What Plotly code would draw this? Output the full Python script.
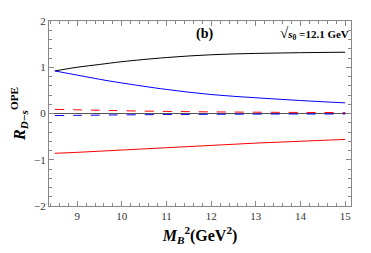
import plotly.graph_objects as go

x_vals = [8.5, 9, 9.5, 10, 11, 12, 13, 14, 15]
black_solid = [0.92, 1.00, 1.06, 1.12, 1.21, 1.27, 1.30, 1.315, 1.325]
blue_solid = [0.92, 0.83, 0.74, 0.66, 0.52, 0.41, 0.34, 0.28, 0.23]
red_solid = [-0.86, -0.84, -0.815, -0.79, -0.74, -0.69, -0.64, -0.60, -0.56]
red_dashed = [0.09, 0.08, 0.07, 0.06, 0.045, 0.035, 0.028, 0.023, 0.02]
blue_dashed = [-0.045, -0.04, -0.035, -0.03, -0.022, -0.017, -0.013, -0.011, -0.01]

font_fam = "Liberation Serif, Times New Roman, DejaVu Serif, serif"

fig = go.Figure()
fig.add_trace(go.Scatter(x=x_vals, y=black_solid, mode="lines", line=dict(color="black", width=1, shape="spline")))
fig.add_trace(go.Scatter(x=x_vals, y=blue_solid, mode="lines", line=dict(color="blue", width=1, shape="spline")))
fig.add_trace(go.Scatter(x=x_vals, y=red_solid, mode="lines", line=dict(color="red", width=1, shape="spline")))
fig.add_trace(go.Scatter(x=x_vals, y=red_dashed, mode="lines", line=dict(color="red", width=1, dash="dash", shape="spline")))
fig.add_trace(go.Scatter(x=x_vals, y=blue_dashed, mode="lines", line=dict(color="blue", width=1, dash="dash", shape="spline")))

axis_common = dict(
    showgrid=False, showline=True, linecolor="#888", linewidth=1, mirror="ticks",
    ticks="inside", ticklen=5, tickcolor="#888", tickwidth=1, automargin=False,
    tickfont=dict(family=font_fam, size=11, color="#333"),
)
fig.update_xaxes(range=[8.37, 15.13], tickvals=[9, 10, 11, 12, 13, 14, 15],
                 minor=dict(dtick=0.2, ticks="inside", ticklen=3, tickcolor="#888", showgrid=False),
                 zeroline=False,
                 title=dict(text="<b><i>M<sub>B</sub></i><sup>2</sup>(GeV<sup>2</sup>)</b>",
                            font=dict(family=font_fam, size=16, color="black"), standoff=8),
                 **axis_common)
fig.update_yaxes(range=[-2, 2], tickvals=[-2, -1, 0, 1, 2], ticktext=["−2", "−1", "0", "1", "2"],
                 minor=dict(dtick=0.2, ticks="inside", ticklen=3, tickcolor="#888", showgrid=False),
                 zeroline=True, zerolinecolor="#555", zerolinewidth=1,
                 title=dict(text="<b><i>R</i><sub><i>D−s</i></sub><sup>OPE</sup></b>",
                            font=dict(family=font_fam, size=16, color="black"), standoff=6),
                 **axis_common)

fig.add_annotation(x=11.85, y=1.72, xref="x", yref="y", text="<b>(b)</b>", showarrow=False,
                   font=dict(family=font_fam, size=14, color="black"))
fig.add_annotation(x=15.12, y=1.72, xref="x", yref="y", xanchor="right",
                   text="<b><span style='font-size:15px'>√</span><i>s</i><sub>0</sub> =12.1 GeV</b>", showarrow=False,
                   font=dict(family=font_fam, size=11, color="black"))

# page body has an 8px margin, so the figure is shrunk and margins shifted
fig.update_layout(
    width=363, height=245, showlegend=False,
    margin=dict(l=41, r=20, t=13, b=47),
    paper_bgcolor="white", plot_bgcolor="white",
    font=dict(family=font_fam),
)
fig.write_html("out.html")
